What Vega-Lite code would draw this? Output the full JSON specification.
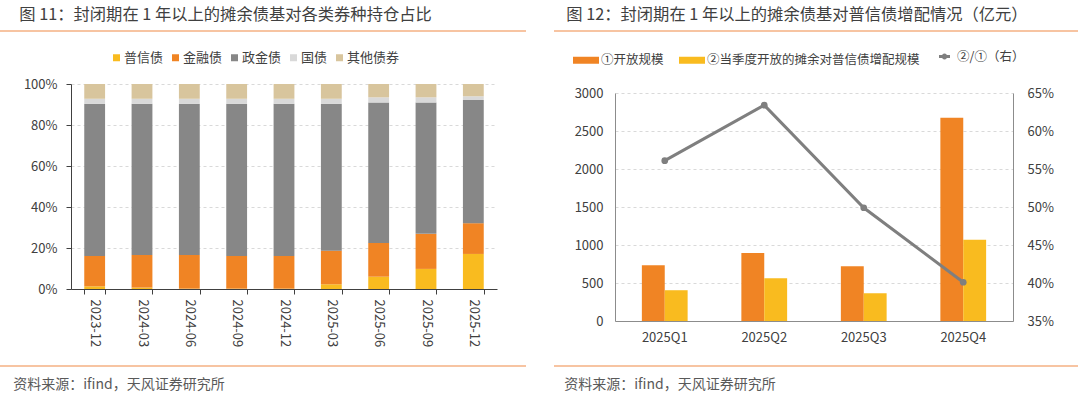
{
  "$schema": "https://vega.github.io/schema/vega-lite/v6.json",
  "background": "white",
  "padding": {"left": -7, "top": 6, "right": 4, "bottom": 0},
  "spacing": 18,
  "resolve": {"scale": {"color": "independent", "stroke": "independent"}, "legend": {"color": "independent", "stroke": "independent"}},
  "config": {
    "font": "Noto Sans CJK SC",
    "view": {"stroke": null},
    "axis": {"labelFont": "Noto Sans CJK SC", "labelColor": "#404040", "labelFontSize": 13, "domainColor": "#595959", "tickColor": "#595959", "title": null},
    "legend": {"labelFont": "Noto Sans CJK SC", "labelColor": "#404040", "labelFontSize": 13, "padding": 0, "title": null, "labelLimit": 400},
    "title": {"font": "Noto Sans CJK SC", "fontWeight": "normal"}
  },
  "datasets": {
    "mix": [
      {"d": "2023-12", "t": "普信债", "k": 1, "v": 1.3},
      {"d": "2023-12", "t": "金融债", "k": 2, "v": 14.8},
      {"d": "2023-12", "t": "政金债", "k": 3, "v": 74.3},
      {"d": "2023-12", "t": "国债", "k": 4, "v": 2.4},
      {"d": "2023-12", "t": "其他债券", "k": 5, "v": 7.2},
      {"d": "2024-03", "t": "普信债", "k": 1, "v": 0.7},
      {"d": "2024-03", "t": "金融债", "k": 2, "v": 15.9},
      {"d": "2024-03", "t": "政金债", "k": 3, "v": 73.8},
      {"d": "2024-03", "t": "国债", "k": 4, "v": 2.4},
      {"d": "2024-03", "t": "其他债券", "k": 5, "v": 7.2},
      {"d": "2024-06", "t": "普信债", "k": 1, "v": 0.2},
      {"d": "2024-06", "t": "金融债", "k": 2, "v": 16.4},
      {"d": "2024-06", "t": "政金债", "k": 3, "v": 73.8},
      {"d": "2024-06", "t": "国债", "k": 4, "v": 2.4},
      {"d": "2024-06", "t": "其他债券", "k": 5, "v": 7.2},
      {"d": "2024-09", "t": "普信债", "k": 1, "v": 0.2},
      {"d": "2024-09", "t": "金融债", "k": 2, "v": 15.9},
      {"d": "2024-09", "t": "政金债", "k": 3, "v": 74.3},
      {"d": "2024-09", "t": "国债", "k": 4, "v": 2.4},
      {"d": "2024-09", "t": "其他债券", "k": 5, "v": 7.2},
      {"d": "2024-12", "t": "普信债", "k": 1, "v": 0.2},
      {"d": "2024-12", "t": "金融债", "k": 2, "v": 15.9},
      {"d": "2024-12", "t": "政金债", "k": 3, "v": 74.3},
      {"d": "2024-12", "t": "国债", "k": 4, "v": 2.4},
      {"d": "2024-12", "t": "其他债券", "k": 5, "v": 7.2},
      {"d": "2025-03", "t": "普信债", "k": 1, "v": 2.3},
      {"d": "2025-03", "t": "金融债", "k": 2, "v": 16.4},
      {"d": "2025-03", "t": "政金债", "k": 3, "v": 71.7},
      {"d": "2025-03", "t": "国债", "k": 4, "v": 2.4},
      {"d": "2025-03", "t": "其他债券", "k": 5, "v": 7.2},
      {"d": "2025-06", "t": "普信债", "k": 1, "v": 6.0},
      {"d": "2025-06", "t": "金融债", "k": 2, "v": 16.5},
      {"d": "2025-06", "t": "政金债", "k": 3, "v": 68.5},
      {"d": "2025-06", "t": "国债", "k": 4, "v": 2.5},
      {"d": "2025-06", "t": "其他债券", "k": 5, "v": 6.5},
      {"d": "2025-09", "t": "普信债", "k": 1, "v": 9.8},
      {"d": "2025-09", "t": "金融债", "k": 2, "v": 17.1},
      {"d": "2025-09", "t": "政金债", "k": 3, "v": 64.1},
      {"d": "2025-09", "t": "国债", "k": 4, "v": 2.5},
      {"d": "2025-09", "t": "其他债券", "k": 5, "v": 6.5},
      {"d": "2025-12", "t": "普信债", "k": 1, "v": 17.1},
      {"d": "2025-12", "t": "金融债", "k": 2, "v": 15.0},
      {"d": "2025-12", "t": "政金债", "k": 3, "v": 60.1},
      {"d": "2025-12", "t": "国债", "k": 4, "v": 1.8},
      {"d": "2025-12", "t": "其他债券", "k": 5, "v": 6.0}
    ],
    "bars": [
      {"q": "2025Q1", "s": "①开放规模", "v": 735},
      {"q": "2025Q1", "s": "②当季度开放的摊余对普信债增配规模", "v": 405},
      {"q": "2025Q2", "s": "①开放规模", "v": 894},
      {"q": "2025Q2", "s": "②当季度开放的摊余对普信债增配规模", "v": 564},
      {"q": "2025Q3", "s": "①开放规模", "v": 722},
      {"q": "2025Q3", "s": "②当季度开放的摊余对普信债增配规模", "v": 366},
      {"q": "2025Q4", "s": "①开放规模", "v": 2674},
      {"q": "2025Q4", "s": "②当季度开放的摊余对普信债增配规模", "v": 1070}
    ],
    "ratio": [
      {"q": "2025Q1", "r": 0.561},
      {"q": "2025Q2", "r": 0.634},
      {"q": "2025Q3", "r": 0.499},
      {"q": "2025Q4", "r": 0.401}
    ]
  },
  "vconcat": [
    {
      "spacing": 26,
      "hconcat": [
        {
          "width": 526, "height": 1,
          "data": {"values": [{}]},
          "title": {"text": "图 11：封闭期在 1 年以上的摊余债基对各类券种持仓占比", "anchor": "start", "dx": 20, "fontSize": 16.3, "color": "#404040", "offset": 7},
          "mark": {"type": "rule", "color": "#f4b183", "strokeWidth": 1.5},
          "encoding": {"y": {"datum": 0, "type": "quantitative", "scale": {"domain": [0, 1]}, "axis": null}}
        },
        {
          "width": 524, "height": 1,
          "data": {"values": [{}]},
          "title": {"text": "图 12：封闭期在 1 年以上的摊余债基对普信债增配情况（亿元）", "anchor": "start", "dx": 13, "fontSize": 16.3, "color": "#404040", "offset": 7},
          "mark": {"type": "rule", "color": "#f4b183", "strokeWidth": 1.5},
          "encoding": {"y": {"datum": 0, "type": "quantitative", "scale": {"domain": [0, 1]}, "axis": null}}
        }
      ]
    },
    {
      "spacing": 55,
      "resolve": {"scale": {"color": "independent", "stroke": "independent"}, "legend": {"color": "independent", "stroke": "independent"}},
      "hconcat": [
        {
          "width": 497, "height": 205,
          "data": {"name": "mix"},
          "mark": {"type": "bar"},
          "encoding": {
            "x": {"field": "d", "type": "ordinal", "scale": {"range": [71, 497], "paddingInner": 0.56, "paddingOuter": 0.28},
                  "axis": {"labelAngle": 90, "tickBand": "extent", "tickSize": 5, "labelPadding": 5, "domainColor": "#404040", "tickColor": "#404040"}},
            "y": {"field": "v", "type": "quantitative", "stack": "zero", "scale": {"domain": [0, 100]},
                  "axis": {"values": [0, 20, 40, 60, 80, 100], "labelExpr": "datum.value + '%'", "offset": -71, "grid": true, "gridDash": [3, 3], "gridColor": "#d9d9d9", "tickSize": 5, "labelPadding": 9, "domainColor": "#404040", "tickColor": "#404040"}},
            "color": {"field": "t", "type": "nominal",
                      "scale": {"domain": ["普信债", "金融债", "政金债", "国债", "其他债券"], "range": ["#f9bb1f", "#f08424", "#878787", "#d9d9d9", "#d8c59d"]},
                      "legend": {"orient": "none", "legendX": 110, "legendY": -33, "direction": "horizontal", "symbolType": "square", "symbolSize": 49, "symbolStrokeWidth": 0, "columnPadding": 5, "labelOffset": 1}},
            "order": {"field": "k", "type": "quantitative"}
          }
        },
        {
          "width": 398, "height": 237,
          "layer": [
            {
              "data": {"name": "bars"},
              "mark": {"type": "bar"},
              "encoding": {
                "x": {"field": "q", "type": "nominal", "scale": {"paddingInner": 0.54, "paddingOuter": 0.27},
                      "axis": {"labelAngle": 0, "ticks": false, "labelPadding": 10, "domainColor": "#8c8c8c"}},
                "xOffset": {"field": "s", "type": "nominal", "sort": ["①开放规模", "②当季度开放的摊余对普信债增配规模"]},
                "y": {"field": "v", "type": "quantitative", "scale": {"domain": [0, 3000], "range": [237, 9]},
                      "axis": {"values": [0, 500, 1000, 1500, 2000, 2500, 3000], "format": "d", "grid": true, "gridDash": [3, 3], "gridColor": "#d9d9d9", "ticks": false, "labelPadding": 12, "minExtent": 63, "domainColor": "#8c8c8c"}},
                "color": {"field": "s", "type": "nominal",
                          "scale": {"domain": ["①开放规模", "②当季度开放的摊余对普信债增配规模"], "range": ["#f08424", "#f9bb1f"]},
                          "legend": {"orient": "none", "legendX": -39, "legendY": -34, "direction": "horizontal", "symbolType": "M-1.3,-0.35H1.3V0.35H-1.3Z", "symbolSize": 400, "symbolStrokeWidth": 0, "columnPadding": 15, "labelOffset": 5, "labelFontSize": 12.5}}
              }
            },
            {
              "data": {"name": "ratio"},
              "encoding": {
                "x": {"field": "q", "type": "nominal"},
                "y": {"field": "r", "type": "quantitative", "scale": {"domain": [0.35, 0.65], "range": [237, 9]},
                      "axis": {"orient": "right", "values": [0.35, 0.4, 0.45, 0.5, 0.55, 0.6, 0.65], "format": ".0%", "grid": false, "ticks": false, "labelPadding": 14, "minExtent": 63, "domainColor": "#8c8c8c"}}
              },
              "layer": [
                {
                  "mark": {"type": "line", "strokeWidth": 3},
                  "encoding": {
                    "stroke": {"datum": "②/①（右）", "type": "nominal", "scale": {"range": ["#7f7f7f"]},
                               "legend": {"orient": "none", "legendX": 323, "legendY": -34, "symbolType": "M-1.1,0H1.1M0.28,0A0.28,0.28,0,1,1,-0.28,0A0.28,0.28,0,1,1,0.28,0Z", "symbolSize": 100, "symbolStrokeWidth": 3, "labelOffset": 6, "labelFontSize": 12.5,
                                          "encode": {"symbols": {"update": {"fill": {"value": "#7f7f7f"}}}}}}
                  }
                },
                {
                  "mark": {"type": "circle", "color": "#7f7f7f", "size": 45, "opacity": 1},
                  "encoding": {}
                }
              ]
            }
          ],
          "resolve": {"scale": {"y": "independent"}}
        }
      ]
    },
    {
      "spacing": 26,
      "hconcat": [
        {
          "width": 526, "height": 1,
          "data": {"values": [{}]},
          "title": {"text": "资料来源：ifind，天风证券研究所", "orient": "bottom", "anchor": "start", "dx": 14, "fontSize": 14, "color": "#595959", "offset": 11},
          "mark": {"type": "rule", "color": "#f4b183", "strokeWidth": 1.5},
          "encoding": {"y": {"datum": 0, "type": "quantitative", "scale": {"domain": [0, 1]}, "axis": null}}
        },
        {
          "width": 524, "height": 1,
          "data": {"values": [{}]},
          "title": {"text": "资料来源：ifind，天风证券研究所", "orient": "bottom", "anchor": "start", "dx": 11, "fontSize": 14, "color": "#595959", "offset": 11},
          "mark": {"type": "rule", "color": "#f4b183", "strokeWidth": 1.5},
          "encoding": {"y": {"datum": 0, "type": "quantitative", "scale": {"domain": [0, 1]}, "axis": null}}
        }
      ]
    }
  ]
}
